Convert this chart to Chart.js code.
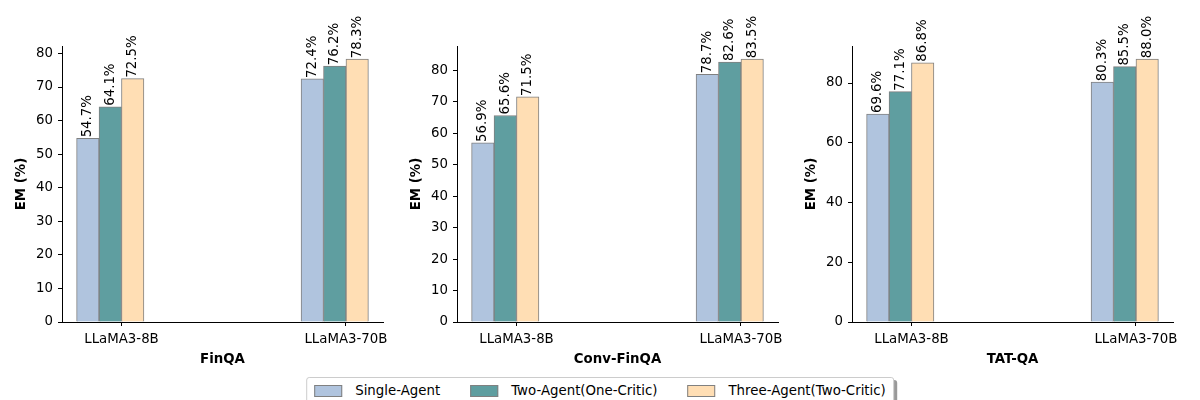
<!DOCTYPE html>
<html>
<head>
<meta charset="utf-8">
<script src="https://cdn.jsdelivr.net/npm/chart.js@4.4.1/dist/chart.umd.min.js"></script>
<style>
  body { margin: 0; background: #fff; font-family: 'DejaVu Sans', sans-serif; }
  #wrap { position: relative; width: 1200px; height: 400px; overflow: hidden; }
  .panel { position: absolute; top: 0; width: 395px; height: 370px; }
  #legend {
    position: absolute; top: 377px; left: 50%; transform: translateX(-50%);
    display: flex; align-items: center; white-space: nowrap;
    padding: 5px 7px 12px 7px; border: 1px solid #ccc; border-radius: 3px;
    background: #fff; box-shadow: 3px 3px 0 #999;
    font-size: 13.33px; color: #000;
  }
  .item { display: flex; align-items: center; margin-right: 30px; }
  .item:last-child { margin-right: 0; }
  .swatch { width: 26px; height: 10px; border: 1px solid #808080; margin-right: 13px; }
</style>
</head>
<body>
<div id="wrap">
  <div class="panel" style="left:0"><canvas id="c0"></canvas></div>
  <div class="panel" style="left:395px"><canvas id="c1"></canvas></div>
  <div class="panel" style="left:790px"><canvas id="c2"></canvas></div>
  <div id="legend"></div>
</div>
<script>
// categories
const models = ['LLaMA3-8B', 'LLaMA3-70B'];
const benchmarks = ['FinQA', 'Conv-FinQA', 'TAT-QA'];
const seriesNames = ['Single-Agent', 'Two-Agent(One-Critic)', 'Three-Agent(Two-Critic)'];

// EM (%) per benchmark, [8B, 70B]
const singleAgent = [[54.7, 72.4], [56.9, 78.7], [69.6, 80.3]];
const twoAgent = [[64.1, 76.2], [65.6, 82.6], [77.1, 85.5]];
const threeAgent = [[72.5, 78.3], [71.5, 83.5], [86.8, 88.0]];

// y tick step per panel
const yTickSteps = [10, 10, 20];

// styling
const colors = ['#B0C4DE', '#5F9EA0', '#FFDEB4'];
const barOffsets = [-0.15, -0.05, 0.05];
const FONT = "'DejaVu Sans', sans-serif";

Chart.defaults.color = '#000';
Chart.defaults.font.family = FONT;
Chart.defaults.font.size = 13.33;

const valueLabels = {
  id: 'valueLabels',
  afterDatasetsDraw(chart) {
    const ctx = chart.ctx;
    ctx.save();
    ctx.font = '13.33px ' + FONT;
    ctx.fillStyle = '#000';
    ctx.textAlign = 'left';
    ctx.textBaseline = 'middle';
    chart.data.datasets.forEach((ds, i) => {
      chart.getDatasetMeta(i).data.forEach((bar, j) => {
        ctx.save();
        ctx.translate(bar.x, bar.y - 1);
        ctx.rotate(-Math.PI / 2);
        ctx.fillText(ds.data[j].y.toFixed(1) + '%', 0, 0);
        ctx.restore();
      });
    });
    ctx.restore();
  }
};

const allSeries = [singleAgent, twoAgent, threeAgent];

benchmarks.forEach((name, b) => {
  const datasets = allSeries.map((series, s) => ({
    label: seriesNames[s],
    data: series[b].map((v, i) => ({ x: i + barOffsets[s], y: v })),
    backgroundColor: colors[s],
    borderColor: '#808080',
    borderWidth: 1,
    grouped: false,
    categoryPercentage: 1,
    barPercentage: 1
  }));

  const dataMax = Math.max(...allSeries.map(series => Math.max(...series[b])));
  const yMax = dataMax * 1.05;
  const step = yTickSteps[b];

  new Chart(document.getElementById('c' + b), {
    type: 'bar',
    data: { datasets: datasets },
    plugins: [valueLabels],
    options: {
      responsive: true,
      maintainAspectRatio: false,
      animation: false,
      layout: { padding: { top: 46, right: 12, left: 0, bottom: 0 } },
      plugins: { legend: { display: false }, tooltip: { enabled: false } },
      scales: {
        x: {
          type: 'linear',
          min: -0.265,
          max: 1.165,
          offset: false,
          afterBuildTicks: (scale) => {
            scale.ticks = models.map((m, i) => ({ value: i }));
          },
          afterFit: (scale) => { scale.height = 48; },
          ticks: {
            callback: (value) => models[value],
            padding: 6,
            maxRotation: 0,
            autoSkip: false
          },
          grid: { offset: false, drawOnChartArea: false, drawTicks: true, tickLength: 4, color: '#000' },
          border: { display: true, color: '#000', width: 1 },
          title: {
            display: true,
            text: name,
            font: { weight: 'bold', size: 13.33 },
            padding: { top: 0, bottom: 2 }
          }
        },
        y: {
          min: 0,
          max: yMax,
          afterBuildTicks: (scale) => {
            const ticks = [];
            for (let v = 0; v <= yMax; v += step) ticks.push({ value: v });
            scale.ticks = ticks;
          },
          afterFit: (scale) => { scale.width = 62; },
          ticks: { padding: 5 },
          grid: { drawOnChartArea: false, drawTicks: true, tickLength: 4, color: '#000' },
          border: { display: true, color: '#000', width: 1 },
          title: {
            display: true,
            text: 'EM (%)',
            font: { weight: 'bold', size: 13.33 },
            padding: { top: 14, bottom: 0 }
          }
        }
      }
    }
  });
});

const legend = document.getElementById('legend');
seriesNames.forEach((n, s) => {
  const item = document.createElement('div');
  item.className = 'item';
  const sw = document.createElement('span');
  sw.className = 'swatch';
  sw.style.background = colors[s];
  const t = document.createElement('span');
  t.textContent = n;
  item.appendChild(sw);
  item.appendChild(t);
  legend.appendChild(item);
});
</script>
</body>
</html>
